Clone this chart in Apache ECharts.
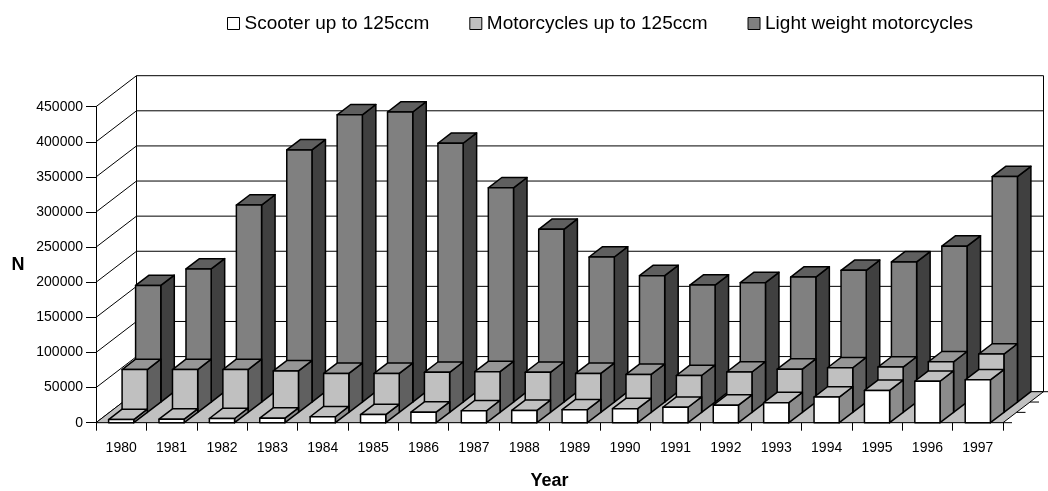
<!DOCTYPE html>
<html>
<head>
<meta charset="utf-8">
<script src="https://cdn.jsdelivr.net/npm/echarts@6/dist/echarts.min.js"></script>
<style>
  html, body { margin: 0; padding: 0; background: #fff; }
  #chart { width: 1048px; height: 491px; }
</style>
</head>
<body>
<div id="chart"></div>
<script>
// Registered motor vehicles per year, by class
const years = ['1980', '1981', '1982', '1983', '1984', '1985', '1986', '1987', '1988',
               '1989', '1990', '1991', '1992', '1993', '1994', '1995', '1996', '1997'];
const scooter = [4500, 5000, 6000, 6500, 8500, 11500, 15000, 17000, 17500,
                 18500, 20000, 22000, 25000, 28500, 36500, 46000, 59000, 61000];
const motorcycles = [61000, 61000, 61000, 59000, 55500, 55500, 57000, 58000, 57000,
                     55500, 54000, 52500, 57500, 61500, 63500, 64500, 72000, 83000];
const lightWeight = [166000, 189500, 280500, 359000, 409000, 413000, 368500, 305000, 246000,
                     206500, 180000, 166500, 170000, 178000, 187500, 199500, 222000, 321000];
const yTicks = [0, 50000, 100000, 150000, 200000, 250000, 300000, 350000, 400000, 450000];
const seriesNames = ['Scooter up to 125ccm', 'Motorcycles up to 125ccm', 'Light weight motorcycles'];

const FONT = "'Liberation Sans', Arial, sans-serif";
// oblique projection: screen offset of the full chart depth
const DEPTH = [40.5, -31];
const ROWS = 3;

// shading per series: front, top and side faces
const faces = [
  { front: '#ffffff', top: '#c0c0c0', side: '#8c8c8c' },
  { front: '#c0c0c0', top: '#969696', side: '#606060' },
  { front: '#808080', top: '#5f5f5f', side: '#404040' }
];

const edge = { stroke: '#000', lineWidth: 1.5, lineJoin: 'round' };

// a 3D box standing in depth row `row`
function barRenderer(row) {
  return function (params, api) {
    const idx = api.value(0);
    const val = api.value(1);
    const base = api.coord([idx, 0]);
    const top = api.coord([idx, val]);
    const w = api.size([1, 0])[0] * 0.5;
    const ox = DEPTH[0] * row / ROWS, oy = DEPTH[1] * row / ROWS;
    const dx = DEPTH[0] / ROWS, dy = DEPTH[1] / ROWS;
    const x0 = base[0] - w / 2 + ox, x1 = x0 + w;
    const yb = base[1] + oy, yt = top[1] + oy;
    const c = faces[row];
    return {
      type: 'group',
      children: [
        { type: 'polygon', shape: { points: [[x1, yb], [x1, yt], [x1 + dx, yt + dy], [x1 + dx, yb + dy]] },
          style: Object.assign({ fill: c.side }, edge) },
        { type: 'polygon', shape: { points: [[x0, yt], [x1, yt], [x1 + dx, yt + dy], [x0 + dx, yt + dy]] },
          style: Object.assign({ fill: c.top }, edge) },
        { type: 'rect', shape: { x: x0, y: yt, width: w, height: yb - yt },
          style: Object.assign({ fill: c.front }, edge) }
      ]
    };
  };
}

// value lines on the side wall and the back wall
function gridRenderer(params, api) {
  const cs = params.coordSys;
  const y = api.coord([0, api.value(1)])[1];
  const xl = cs.x, xr = cs.x + cs.width;
  const bx = xl + DEPTH[0], by = y + DEPTH[1];
  const line = { stroke: '#000', lineWidth: 1 };
  return {
    type: 'group',
    children: [
      { type: 'line', shape: { x1: xl, y1: y, x2: bx, y2: by }, style: line },
      { type: 'line', shape: { x1: bx, y1: by, x2: xr + DEPTH[0], y2: by }, style: line }
    ]
  };
}

// wall edges, floor and depth-axis ticks
function frameRenderer(params, api) {
  const cs = params.coordSys;
  const y0 = api.coord([0, yTicks[0]])[1];
  const yMax = api.coord([0, yTicks[yTicks.length - 1]])[1];
  const xl = cs.x, xr = cs.x + cs.width;
  const line = { stroke: '#000', lineWidth: 1 };
  const children = [
    { type: 'polygon',
      shape: { points: [[xl, y0], [xr, y0], [xr + DEPTH[0], y0 + DEPTH[1]], [xl + DEPTH[0], y0 + DEPTH[1]]] },
      style: { fill: '#c0c0c0', stroke: '#000', lineWidth: 1 } },
    { type: 'line', shape: { x1: xl + DEPTH[0], y1: yMax + DEPTH[1], x2: xl + DEPTH[0], y2: y0 + DEPTH[1] }, style: line },
    { type: 'line', shape: { x1: xr + DEPTH[0], y1: yMax + DEPTH[1], x2: xr + DEPTH[0], y2: y0 + DEPTH[1] }, style: line }
  ];
  for (let r = 0; r <= ROWS; r++) {
    const tx = xr + DEPTH[0] * r / ROWS, ty = y0 + DEPTH[1] * r / ROWS;
    children.push({ type: 'line', shape: { x1: tx, y1: ty, x2: tx + 9, y2: ty }, style: line });
  }
  return { type: 'group', children };
}

const chart = echarts.init(document.getElementById('chart'), null, { renderer: 'canvas' });

chart.setOption({
  animation: false,
  backgroundColor: '#fff',
  textStyle: { fontFamily: FONT, color: '#000' },
  legend: {
    left: 222,
    top: 9,
    itemWidth: 12,
    itemHeight: 12,
    itemGap: 40,
    selectedMode: false,
    textStyle: { fontFamily: FONT, fontSize: 19, color: '#000' },
    data: seriesNames.map((n, i) => ({
      name: n, icon: 'rect',
      itemStyle: { color: faces[i].front, borderColor: '#000', borderWidth: 1 }
    }))
  },
  grid: { left: 96, right: 45, top: 106.7, bottom: 68.3, containLabel: false, outerBoundsMode: 'none' },
  xAxis: {
    type: 'category',
    data: years,
    boundaryGap: true,
    name: 'Year',
    nameLocation: 'middle',
    nameGap: 49,
    nameTextStyle: { fontFamily: FONT, fontSize: 18, fontWeight: 'bold', color: '#000' },
    axisLine: { show: true, lineStyle: { color: '#000', width: 1 } },
    axisTick: { show: true, length: 8, interval: 0, lineStyle: { color: '#000' } },
    axisLabel: { interval: 0, margin: 18, fontFamily: FONT, fontSize: 14, color: '#000' },
    splitLine: { show: false }
  },
  yAxis: {
    type: 'value',
    min: 0,
    max: 450000,
    interval: 50000,
    name: 'N',
    nameLocation: 'middle',
    nameRotate: 0,
    nameGap: 78,
    nameTextStyle: { fontFamily: FONT, fontSize: 18, fontWeight: 'bold', color: '#000',
                     align: 'center', verticalAlign: 'middle' },
    axisLine: { show: true, lineStyle: { color: '#000', width: 1 } },
    axisTick: { show: true, length: 10, lineStyle: { color: '#000' } },
    axisLabel: { margin: 13, fontFamily: FONT, fontSize: 14, color: '#000',
                 formatter: v => String(v) },
    splitLine: { show: false }
  },
  series: [
    { type: 'custom', name: 'grid', z: 1, silent: true, renderItem: gridRenderer,
      data: yTicks.map(v => [0, v]) },
    { type: 'custom', name: 'frame', z: 1, silent: true, renderItem: frameRenderer,
      data: [[0, 0]] },
    { type: 'custom', name: seriesNames[2], z: 3, renderItem: barRenderer(2),
      itemStyle: { color: faces[2].front },
      data: lightWeight.map((v, i) => [i, v]) },
    { type: 'custom', name: seriesNames[1], z: 4, renderItem: barRenderer(1),
      itemStyle: { color: faces[1].front },
      data: motorcycles.map((v, i) => [i, v]) },
    { type: 'custom', name: seriesNames[0], z: 5, renderItem: barRenderer(0),
      itemStyle: { color: faces[0].front },
      data: scooter.map((v, i) => [i, v]) }
  ]
});
</script>
</body>
</html>
